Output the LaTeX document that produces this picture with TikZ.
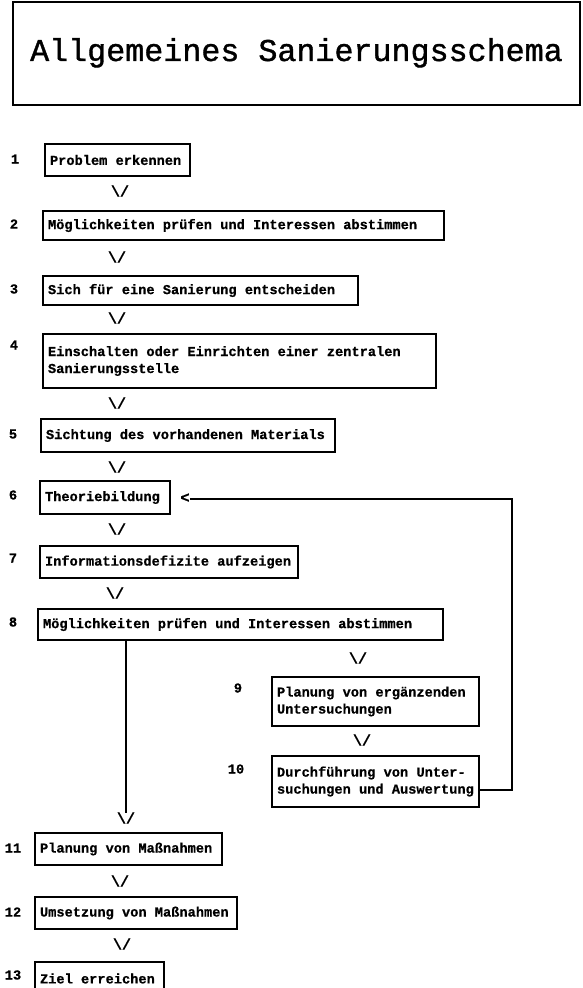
\documentclass[tikz,border=0pt]{standalone}
\usepackage{fontspec}
\setmainfont{Liberation Mono}[WordSpace={1,0,0},BoldFeatures={FakeBold=0.6}]
\setmonofont{Liberation Mono}
\newfontfamily\titlefont{Liberation Mono}[FakeBold=1.2]
\usetikzlibrary{calc}
\begin{document}
\begin{tikzpicture}[x=1pt,y=-1pt,
  stepbox/.style={draw, line width=1.3pt, inner sep=0pt, align=left,
    font=\bfseries\fontsize{13.67}{17}\selectfont,
    execute at begin node={\spaceskip=0.6em\xspaceskip=0.6em\relax}},
  numlabel/.style={inner sep=0pt, font=\bfseries\fontsize{13.67}{16}\selectfont},
  vmark/.style={inner sep=0pt, font=\bfseries\fontsize{15}{16}\selectfont},
  conn/.style={line width=1.3pt}]
\useasboundingbox (0,0) rectangle (582,988);
\clip (0,0) rectangle (582,988);
\fill[white] (0,0) rectangle (582,988);

% title
\node[draw, line width=1.3pt, minimum width=567pt, minimum height=103pt, inner sep=0pt,
  font=\titlefont\fontsize{31.7}{34}\selectfont] (title) at (296.5,53.5)
  {\raisebox{8pt}{Allgemeines Sanierungsschema}};

% boxes
\node[stepbox, minimum width=145pt, text width=135pt, minimum height=32pt] (b1) at (117.5,160) {Problem erkennen};
\node[stepbox, minimum width=401pt, text width=391pt, minimum height=29pt] (b2) at (243.5,225.5) {Möglichkeiten prüfen und Interessen abstimmen};
\node[stepbox, minimum width=315pt, text width=305pt, minimum height=29pt] (b3) at (200.5,290.5) {Sich für eine Sanierung entscheiden};
\node[stepbox, minimum width=393pt, text width=383pt, minimum height=54pt] (b4) at (239.5,361) {Einschalten oder Einrichten einer zentralen\\Sanierungsstelle};
\node[stepbox, minimum width=294pt, text width=284pt, minimum height=33pt] (b5) at (188,435.5) {Sichtung des vorhandenen Materials};
\node[stepbox, minimum width=130pt, text width=120pt, minimum height=33pt] (b6) at (105,497.5) {Theoriebildung};
\node[stepbox, minimum width=258pt, text width=248pt, minimum height=32pt] (b7) at (169,562) {Informationsdefizite aufzeigen};
\node[stepbox, minimum width=405pt, text width=395pt, minimum height=31pt] (b8) at (240.5,624.5) {Möglichkeiten prüfen und Interessen abstimmen};
\node[stepbox, minimum width=207pt, text width=197pt, minimum height=49pt] (b9) at (375.5,701.5) {Planung von ergänzenden\\Untersuchungen};
\node[stepbox, minimum width=207pt, text width=197pt, minimum height=51pt] (b10) at (375.5,781.5) {Durchführung von Unter-\\suchungen und Auswertung};
\node[stepbox, minimum width=187pt, text width=177pt, minimum height=32pt] (b11) at (128.5,849) {Planung von Maßnahmen};
\node[stepbox, minimum width=202pt, text width=192pt, minimum height=32pt] (b12) at (136,913) {Umsetzung von Maßnahmen};
\node[stepbox, minimum width=129pt, text width=119pt, minimum height=33pt] (b13) at (99.5,978.5) {Ziel erreichen};

% numbers
\node[numlabel] (n1) at (15,159) {1};
\node[numlabel] (n2) at (14,224) {2};
\node[numlabel] (n3) at (14,289) {3};
\node[numlabel] (n4) at (14,345) {4};
\node[numlabel] (n5) at (13,434) {5};
\node[numlabel] (n6) at (13,495) {6};
\node[numlabel] (n7) at (13,558) {7};
\node[numlabel] (n8) at (13,622) {8};
\node[numlabel] (n9) at (238,688) {9};
\node[numlabel] (n10) at (236,769) {10};
\node[numlabel] (n11) at (13,848) {11};
\node[numlabel] (n12) at (13,912) {12};
\node[numlabel] (n13) at (13,975) {13};

% V marks
\node[vmark] (v1) at (120,191) {\textbackslash/};
\node[vmark] (v2) at (117,257) {\textbackslash/};
\node[vmark] (v3) at (117,318) {\textbackslash/};
\node[vmark] (v4) at (117,403) {\textbackslash/};
\node[vmark] (v5) at (117,467) {\textbackslash/};
\node[vmark] (v6) at (117,529) {\textbackslash/};
\node[vmark] (v7) at (115,593) {\textbackslash/};
\node[vmark] (v8) at (358,658) {\textbackslash/};
\node[vmark] (v9) at (362,740) {\textbackslash/};
\node[vmark] (v811) at (126,818) {\textbackslash/};
\node[vmark] (v11) at (120,881) {\textbackslash/};
\node[vmark] (v12) at (122,944) {\textbackslash/};

% connector b8 -> b11
\draw[conn] (v811 |- b8.south) -- ($(v811.north)+(0,1)$);

% feedback loop b10 -> b6
\node[vmark] (lt) at (185,498) {<};
\coordinate (lc) at (512,499);
\draw[conn] ([yshift=-8.5pt]b10.east) -| (lc) -- (lt.east |- lc);
\end{tikzpicture}
\end{document}
